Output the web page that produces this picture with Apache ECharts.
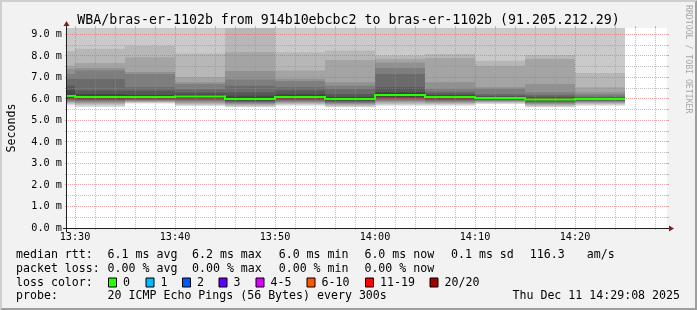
<!DOCTYPE html>
<html><head><meta charset="utf-8">
<script src="https://cdn.jsdelivr.net/npm/echarts@6/dist/echarts.min.js"></script>
<style>html,body{margin:0;padding:0;background:#f2f2f2}#c{width:697px;height:310px}</style>
</head><body><div id="c"></div>
<script>
// ---------------- data ----------------
const segEnds = ['13:30','13:35','13:40','13:45','13:50','13:55','14:00','14:05','14:10','14:15','14:20','14:25'];
const medianRtt = [6.14, 6.09, 6.09, 6.12, 6.00, 6.09, 6.00, 6.19, 6.09, 6.05, 5.98, 6.00];
// 20 sorted ping times (ms) per 5-minute step
const pings_1330 = [5.70,5.76,5.80,5.84,5.88,5.92,5.96,6.00,6.05,6.10, 6.20,6.40,6.62,6.93,7.16,7.40,7.55,8.22,9.60,10.5];
const pings_1335 = [5.63,5.69,5.74,5.79,5.84,5.89,5.93,5.97,6.00,6.05, 6.14,6.23,6.39,6.93,7.32,7.44,7.67,8.33,9.60,10.5];
const pings_1340 = [5.79,5.82,5.85,5.87,5.90,5.93,5.96,5.99,6.02,6.05, 6.13,6.20,6.38,6.55,7.16,7.25,7.94,8.48,9.60,10.5];
const pings_1345 = [5.67,5.71,5.76,5.80,5.85,5.90,5.95,5.99,6.03,6.08, 6.16,6.22,6.31,6.45,6.70,6.78,7.01,8.12,9.60,10.5];
const pings_1350 = [5.61,5.65,5.69,5.73,5.77,5.81,5.85,5.89,5.93,5.97, 6.05,6.15,6.31,6.62,6.90,7.30,8.17,9.50,9.80,10.5];
const pings_1355 = [5.69,5.73,5.77,5.81,5.85,5.89,5.93,5.97,6.01,6.05, 6.14,6.22,6.39,6.55,6.82,6.93,7.32,8.17,9.60,10.5];
const pings_1400 = [5.61,5.65,5.69,5.73,5.77,5.81,5.85,5.89,5.93,5.97, 6.04,6.10,6.23,6.47,6.62,6.78,7.81,8.25,9.60,10.5];
const pings_1405 = [5.69,5.73,5.78,5.83,5.88,5.93,5.98,6.03,6.08,6.14, 6.24,6.31,6.54,7.16,7.44,7.70,7.86,8.02,9.60,10.5];
const pings_1410 = [5.69,5.73,5.77,5.81,5.85,5.89,5.93,5.97,6.01,6.05, 6.12,6.17,6.25,6.35,6.47,6.78,7.90,8.09,9.60,10.5];
const pings_1415 = [5.77,5.80,5.83,5.86,5.89,5.92,5.95,5.98,6.00,6.02, 6.07,6.10,6.15,6.23,6.47,6.54,7.55,7.78,9.60,10.5];
const pings_1420 = [5.61,5.65,5.69,5.73,5.77,5.81,5.85,5.89,5.92,5.95, 6.02,6.06,6.12,6.20,6.31,6.70,7.86,8.05,9.60,10.5];
const pings_1425 = [5.69,5.73,5.77,5.81,5.85,5.88,5.91,5.94,5.96,5.98, 6.02,6.04,6.07,6.12,6.22,6.31,6.54,7.21,9.60,10.5];
const pingsBySeg = [pings_1330,pings_1335,pings_1340,pings_1345,pings_1350,pings_1355,pings_1400,pings_1405,pings_1410,pings_1415,pings_1420,pings_1425];

const yTickValues = [0,1,2,3,4,5,6,7,8,9];
const yMinorValues = [0.5,1.5,2.5,3.5,4.5,5.5,6.5,7.5,8.5];
const xTickLabels = ['13:30','13:40','13:50','14:00','14:10','14:20'];
const xMinorLabels = ['13:32','13:34','13:36','13:38','13:42','13:44','13:46','13:48','13:52','13:54','13:56','13:58',
  '14:02','14:04','14:06','14:08','14:12','14:14','14:16','14:18','14:22','14:24','14:26','14:28'];
const lossLabels = ['0','1','2','3','4-5','6-10','11-19','20/20'];
const lossColors = ['#26ff00','#00b8ff','#0059ff','#5e00ff','#dd00ff','#ff5500','#ff0000','#a10000'];

const titleText = 'WBA/bras-er-1102b from 914b10ebcbc2 to bras-er-1102b (91.205.212.29)';
const rttLabel = 'median rtt:';
const rttItems = ['6.1 ms avg','6.2 ms max','6.0 ms min','6.0 ms now','0.1 ms sd','116.3','am/s'];
const lossLabelTxt = 'packet loss:';
const lossItems = ['0.00 % avg','0.00 % max','0.00 % min','0.00 % now'];
const probeLabel = 'probe:';
const probeText = '20 ICMP Echo Pings (56 Bytes) every 300s';
const dateText = 'Thu Dec 11 14:29:08 2025';
const watermark = 'RRDTOOL / TOBI OETIKER';

// ---------------- layout / style ----------------
const FONT = '"DejaVu Sans Mono", monospace';
const GL = 67, GT = 28, GW = 600, GH = 200, W = 697, H = 310;
function toSec(s){ const a = s.split(':').map(Number); return a[0]*3600 + a[1]*60; }
const T0 = toSec('13:29') + 12, T1 = T0 + 3600, STEP = 300;
const bandColors = [];
for (let k = 1; k <= 10; k++) { const c = Math.floor(19*(10-k)) + 50; bandColors.push('rgb('+c+','+c+','+c+')'); }
const GRID_C = 'rgba(143,143,143,0.55)', MGRID_C = 'rgba(222,79,79,0.5)';
function fmtTime(v){ const h = Math.floor(v/3600), m = Math.round((v%3600)/60); return h+':'+String(m).padStart(2,'0'); }

const chart = echarts.init(document.getElementById('c'), null, {renderer:'canvas'});

function clampRect(cs, x0, y0, x1, y1){
  x0 = Math.max(x0, cs.x); x1 = Math.min(x1, cs.x + cs.width);
  y0 = Math.max(y0, cs.y); y1 = Math.min(y1, cs.y + cs.height);
  return (x1 > x0 && y1 > y0) ? {x:x0, y:y0, width:x1-x0, height:y1-y0} : null;
}

function renderSmoke(params, api){
  const cs = params.coordSys;
  const i = api.value(1);
  const tEnd = api.value(0), tStart = tEnd - STEP;
  const p = pingsBySeg[i];
  const children = [];
  for (let k = 0; k < 10; k++) {
    const lo = api.coord([tStart, p[k]]), hi = api.coord([tEnd, p[19-k]]);
    const r = clampRect(cs, lo[0], hi[1], hi[0], lo[1]);
    if (r) children.push({type:'rect', shape:r, style:{fill:bandColors[k]}});
  }
  return {type:'group', children};
}

// median line: horizontal step per segment + vertical riser from the previous step
function renderMedian(params, api){
  const cs = params.coordSys;
  const tEnd = api.value(0), v = api.value(1), i = params.dataIndex;
  const a = api.coord([tEnd - STEP, v]), b = api.coord([tEnd, v]);
  const x0 = Math.max(a[0], cs.x), x1 = Math.min(b[0], cs.x + cs.width);
  const children = [];
  const st = {stroke:'#26ff00', lineWidth:2, lineCap:'butt'};
  if (x1 > x0) children.push({type:'line', shape:{x1:x0, y1:a[1], x2:x1, y2:b[1]}, style:st});
  if (i > 0 && a[0] >= cs.x) {
    const pv = api.coord([tEnd - STEP, medianRtt[i-1]]);
    children.push({type:'line', shape:{x1:a[0], y1:pv[1] + (pv[1] < a[1] ? -1 : 1), x2:a[0], y2:a[1] + (pv[1] < a[1] ? 1 : -1)}, style:st});
  }
  return {type:'group', children};
}

// grid lines: kind 0 = x minor, 1 = x major, 2 = y minor, 3 = y major
const gridData = [];
xMinorLabels.forEach(s => gridData.push([toSec(s), 0, 0]));
xTickLabels.forEach(s => gridData.push([toSec(s), 0, 1]));
yMinorValues.forEach(v => gridData.push([T0, v, 2]));
yTickValues.filter(v => v > 0).forEach(v => gridData.push([T0, v, 3]));

function renderGrid(params, api){
  const cs = params.coordSys;
  const kind = api.value(2);
  const col = (kind === 1 || kind === 3) ? MGRID_C : GRID_C;
  const X0 = cs.x, X1 = cs.x + cs.width, Y0 = cs.y + cs.height, Y1 = cs.y;
  const ls = {stroke: col, lineWidth: 1};
  const ds = {stroke: col, lineWidth: 1, lineDash: [1,1]};
  if (kind <= 1) {
    const x = Math.floor(api.coord([api.value(0), 0])[0]) + 0.5;
    return {type:'group', children:[
      {type:'line', shape:{x1:x, y1:Y0+1, x2:x, y2:Y1-1}, style:ds},
      {type:'line', shape:{x1:x, y1:Y0, x2:x, y2:Y0+2}, style:ls},
      {type:'line', shape:{x1:x, y1:Y1-2, x2:x, y2:Y1}, style:ls}
    ]};
  } else {
    const y = Math.floor(api.coord([T0, api.value(1)])[1]) + 0.5;
    return {type:'group', children:[
      {type:'line', shape:{x1:X0-1, y1:y, x2:X1+1, y2:y}, style:ds},
      {type:'line', shape:{x1:X0-2, y1:y, x2:X0, y2:y}, style:ls},
      {type:'line', shape:{x1:X1, y1:y, x2:X1+2, y2:y}, style:ls}
    ]};
  }
}

// graphic decorations
const g = [];
g.push({type:'polygon', z:100, shape:{points:[[0,H],[2,H-2],[2,2],[W-2,2],[W,0],[0,0]]}, style:{fill:'#cfcfcf'}});
g.push({type:'polygon', z:100, shape:{points:[[0,H],[W,H],[W,0],[W-2,2],[W-2,H-2],[2,H-2]]}, style:{fill:'#9e9e9e'}});
const AX = GL - 0.5, AY = GT + GH + 0.5;
g.push({type:'line', z:50, shape:{x1:GL-4, y1:AY, x2:GL+GW+4, y2:AY}, style:{stroke:'#1f1f1f', lineWidth:1}});
g.push({type:'line', z:50, shape:{x1:AX, y1:GT+GH+4, x2:AX, y2:GT-4}, style:{stroke:'#1f1f1f', lineWidth:1}});
g.push({type:'polygon', z:51, shape:{points:[[GL+GW+2,AY-3],[GL+GW+2,AY+3],[GL+GW+7,AY]]}, style:{fill:'#801f1f'}});
g.push({type:'polygon', z:51, shape:{points:[[AX-3,GT-2],[AX+3,GT-2],[AX,GT-7]]}, style:{fill:'#801f1f'}});
const LF = 11.6;
function txt(x, y, s, align){ g.push({type:'text', z:60, x:x, y:y, style:{text:s, font:LF+'px '+FONT, fill:'#000', textAlign:align||'left', textVerticalAlign:'middle'}}); }
const rowY = [254.5, 268.5, 282.5, 296];
const colX = [107.6, 192, 278.7, 364.4, 451, 529.8, 586.7];
txt(16, rowY[0], rttLabel);
rttItems.forEach((s,i) => txt(colX[i], rowY[0], s));
txt(16, rowY[1], lossLabelTxt);
lossItems.forEach((s,i) => txt(colX[i], rowY[1], s));
txt(16, rowY[2], 'loss color:');
const swX = [108.5, 146, 182.5, 219, 256, 307, 365.5, 430];
lossLabels.forEach((s,i) => {
  g.push({type:'rect', z:60, shape:{x:swX[i], y:rowY[2]-4.5, width:8, height:9}, style:{fill:lossColors[i], stroke:'#000', lineWidth:1}});
  txt(swX[i]+14.5, rowY[2], s);
});
txt(16, rowY[3], probeLabel);
txt(107.6, rowY[3], probeText);
txt(680, rowY[3], dateText, 'right');
g.push({type:'text', z:60, x:688.5, y:5, rotation:-Math.PI/2, style:{text:watermark, font:'8.2px '+FONT, fill:'#a8a8a8', textAlign:'left', textVerticalAlign:'middle'}});

chart.setOption({
  animation: false,
  backgroundColor: '#f2f2f2',
  title: {text: titleText, left: 'center', top: 9, textStyle:{fontFamily: FONT, fontSize: 13.25, fontWeight:'normal', color:'#000'}},
  grid: {left: GL, top: GT, width: GW, height: GH, show: true, backgroundColor: '#ffffff', borderWidth: 0, containLabel: false, outerBoundsMode: 'none'},
  xAxis: {type:'value', min:T0, max:T1,
    axisLine:{show:false}, axisTick:{show:false}, splitLine:{show:false},
    axisLabel:{customValues: xTickLabels.map(toSec), formatter: fmtTime, margin: 4, fontFamily: FONT, fontSize: 10.2, color:'#000'}},
  yAxis: {type:'value', min:0, max:9.3, interval:1,
    axisLine:{show:false}, axisTick:{show:false}, splitLine:{show:false},
    name:'Seconds', nameLocation:'middle', nameRotate:90, nameGap:49,
    nameTextStyle:{fontFamily: FONT, fontSize: 11.6, color:'#000'},
    axisLabel:{customValues: yTickValues, formatter: v => v.toFixed(1)+' m', margin: 5, fontFamily: FONT, fontSize: 10.2, color:'#000'}},
  graphic: g,
  series: [
    {type:'custom', z:2, silent:true, renderItem: renderSmoke, data: segEnds.map((s,i) => [toSec(s), i]), encode:{x:0, y:1}},
    {type:'custom', z:3, silent:true, renderItem: renderGrid, data: gridData, encode:{x:0, y:1}},
    {type:'custom', z:4, silent:true, renderItem: renderMedian, data: segEnds.map((s,i) => [toSec(s), medianRtt[i]]), encode:{x:0, y:1}}
  ]
});
</script></body></html>
